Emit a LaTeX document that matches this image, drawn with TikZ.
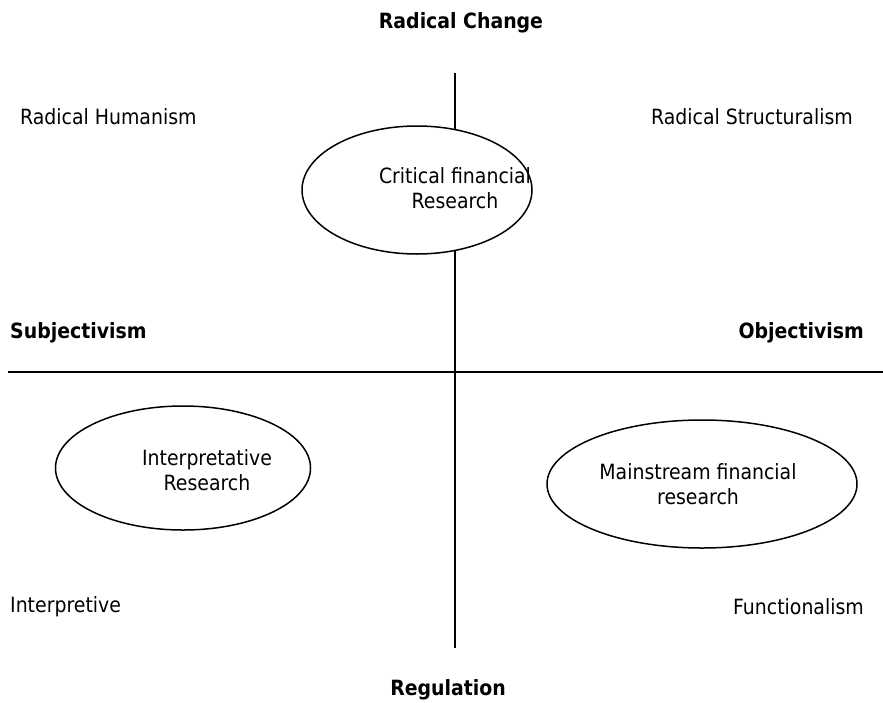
\documentclass[tikz,border=0pt]{standalone}
\usepackage{fontspec}
\setmainfont{DejaVu Sans Condensed}
\usetikzlibrary{shapes.geometric}
\begin{document}
\begin{tikzpicture}[x=1pt,y=-1pt,
  axis/.style={line width=1.8pt},
  paradigm/.style={draw, ellipse, line width=1.5pt, inner sep=0pt},
  lbl/.style={font=\fontsize{21}{25}\selectfont, inner sep=0pt},
  hdr/.style={font=\fontsize{21}{25}\selectfont\bfseries, inner sep=0pt},
  inlbl/.style={font=\fontsize{21}{25}\selectfont, align=center, inner sep=0pt}]
\useasboundingbox (0,0) rectangle (883,702);
% axes
\coordinate (vtop) at (455,73);
\coordinate (vbot) at (455,648);
\coordinate (hleft) at (8,372);
\coordinate (hright) at (883,372);
\draw[axis] (vtop) -- (vbot);
\draw[axis] (hleft) -- (hright);
% paradigm ellipses
\node[paradigm, fill=white, minimum width=230, minimum height=128] (crit) at (417,190) {};
\node[inlbl] (critt) at (455,188) {Critical financial\\Research};
\node[paradigm, minimum width=255, minimum height=124] (interp) at (183,468) {};
\node[inlbl] (interpt) at (207,470) {Interpretative\\Research};
\node[paradigm, minimum width=310, minimum height=128] (main) at (702,484) {};
\node[inlbl] (maint) at (698,484) {Mainstream financial\\research};
% axis labels
\node[hdr] (rc) at (461,23) {Radical Change};
\node[hdr] (reg) at (448,690) {Regulation};
\node[hdr, anchor=west] (subj) at (10,333) {Subjectivism};
\node[hdr, anchor=east] (obj) at (864,333) {Objectivism};
% quadrant labels
\node[lbl, anchor=west] (rh) at (20,117) {Radical Humanism};
\node[lbl, anchor=east] (rs) at (853,117) {Radical Structuralism};
\node[lbl, anchor=west] (ip) at (10,607) {Interpretive};
\node[lbl, anchor=east] (fn) at (864,607) {Functionalism};
\end{tikzpicture}
\end{document}
